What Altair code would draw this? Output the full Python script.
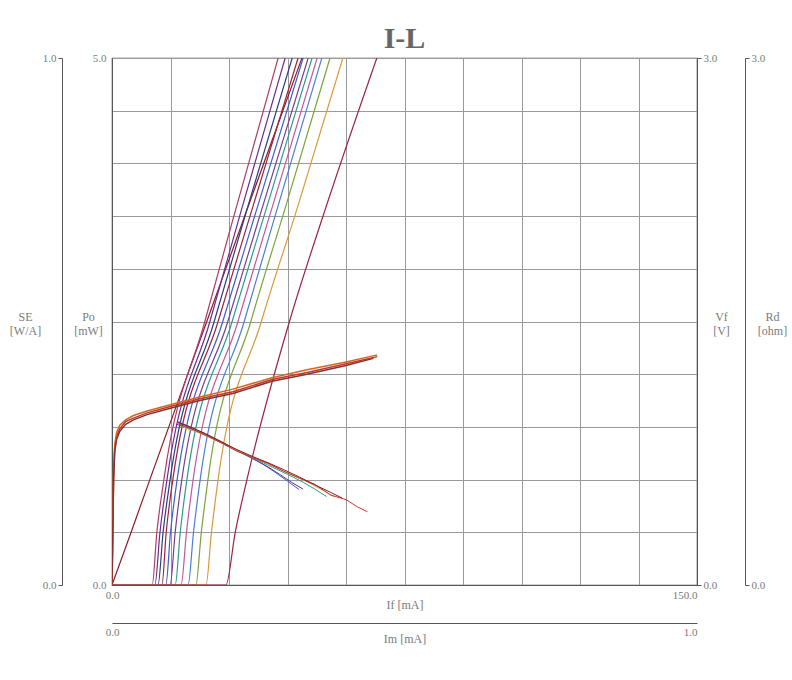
import altair as alt
import pandas as pd

# ---------------- data ----------------
# L-I curves: forward current If [mA] at given optical power Po [mW]
PO_LEVELS = [0.0, 0.0, 0.5, 1.0, 2.5, 3.6, 5.0]
LI_NAMES = ["c00", "c01", "c02", "c03", "c04", "c05", "c06",
            "c07", "c08", "c09", "c10", "c11", "c12"]
LI_IF = [
    [0.0, 0.0, 4.9, 9.7, 24.3, 35.0, 48.7],
    [0.0, 10.3, 11.5, 13.3, 23.8, 32.0, 42.6],
    [0.0, 11.0, 12.3, 14.1, 25.1, 33.5, 44.4],
    [0.0, 11.8, 13.1, 14.9, 26.2, 34.9, 46.2],
    [0.0, 12.8, 13.9, 15.6, 27.2, 36.2, 47.7],
    [0.0, 13.8, 15.0, 16.7, 28.4, 37.4, 49.0],
    [0.0, 14.9, 16.2, 17.9, 29.7, 38.7, 50.3],
    [0.0, 16.2, 17.5, 19.2, 30.8, 39.8, 51.3],
    [0.0, 17.7, 19.1, 20.8, 32.3, 41.2, 52.6],
    [0.0, 19.5, 20.9, 22.6, 33.9, 42.6, 53.8],
    [0.0, 21.5, 22.9, 24.6, 35.6, 44.6, 55.9],
    [0.0, 24.1, 25.5, 27.2, 38.3, 47.7, 59.2],
    [0.0, 29.2, 31.6, 34.6, 45.5, 55.0, 67.9],
]
LI_COLORS = ["#8b1a2b", "#b03a6c", "#6a2c91", "#2c3e7a", "#a0203c",
             "#3a5fcd", "#7a3d8f", "#2a9d8f", "#c2589a", "#4a7fd0",
             "#7aa33a", "#d99a3a", "#9b2340"]

# Forward voltage Vf [V] vs If [mA]
VF_NAMES = ["v1", "v2", "v3"]
VF_IF = [
    [0.0, 0.2, 0.4, 0.7, 1.2, 2.0, 3.5, 5.5, 9.0, 14.0, 22.5, 31.0, 41.0, 50.0, 60.0, 68.0],
    [0.0, 0.2, 0.4, 0.7, 1.2, 2.0, 3.5, 5.5, 9.0, 14.0, 22.5, 31.0, 41.0, 50.0, 60.0, 68.0],
    [0.0, 0.2, 0.4, 0.7, 1.2, 2.0, 3.5, 5.5, 9.0, 14.0, 22.5, 31.0, 41.0, 50.0, 60.0, 67.0],
]
VF_V = [
    [0.00, 0.30, 0.62, 0.78, 0.85, 0.89, 0.93, 0.95, 0.98, 1.01, 1.06, 1.10, 1.17, 1.21, 1.26, 1.30],
    [0.00, 0.32, 0.64, 0.80, 0.87, 0.91, 0.94, 0.965, 0.99, 1.02, 1.07, 1.115, 1.18, 1.225, 1.27, 1.31],
    [0.00, 0.28, 0.60, 0.76, 0.83, 0.875, 0.915, 0.94, 0.97, 1.00, 1.05, 1.09, 1.16, 1.20, 1.25, 1.29],
]
VF_COLORS = ["#c0392b", "#d4661f", "#8b2e2e"]

# Slope efficiency SE [W/A] vs If [mA]
SE_NAMES = ["s1", "s2", "s3", "s4", "s5", "s6"]
SE_IF = [
    [17.0, 20.0, 24.0, 28.0, 32.0, 36.0, 39.0, 42.0, 45.0, 48.0],
    [16.5, 20.0, 24.0, 28.0, 32.0, 36.0, 40.0, 43.0, 46.0, 49.0],
    [17.5, 21.0, 25.0, 29.0, 33.0, 37.0, 41.0, 45.0, 49.0, 52.0, 55.0],
    [18.0, 22.0, 26.0, 30.0, 34.0, 38.0, 42.0, 46.0, 50.0, 54.0, 57.0],
    [17.0, 20.0, 24.0, 28.0, 32.0, 36.0, 40.0, 44.0, 48.0, 52.0, 56.0, 60.0, 63.0, 65.5],
    [16.8, 20.0, 24.0, 28.0, 32.0, 36.0, 40.0, 44.0, 48.0, 52.0, 56.0, 59.0],
]
SE_V = [
    [0.310, 0.300, 0.287, 0.272, 0.256, 0.241, 0.228, 0.213, 0.197, 0.181],
    [0.305, 0.297, 0.285, 0.270, 0.255, 0.240, 0.224, 0.210, 0.195, 0.182],
    [0.302, 0.293, 0.281, 0.266, 0.252, 0.238, 0.224, 0.210, 0.195, 0.182, 0.168],
    [0.300, 0.290, 0.277, 0.262, 0.249, 0.236, 0.223, 0.209, 0.196, 0.180, 0.167],
    [0.307, 0.298, 0.284, 0.270, 0.254, 0.242, 0.231, 0.216, 0.203, 0.191, 0.171, 0.162, 0.148, 0.139],
    [0.309, 0.300, 0.287, 0.272, 0.257, 0.244, 0.232, 0.219, 0.205, 0.190, 0.176, 0.165],
]
SE_COLORS = ["#3a5fcd", "#6a2c91", "#2a9d8f", "#d9a03a", "#c0392b", "#8b1a2b"]

IF_GRID = [0, 15, 30, 45, 60, 75, 90, 105, 120, 135, 150]
PO_GRID = [0, 0.5, 1, 1.5, 2, 2.5, 3, 3.5, 4, 4.5, 5]

# ---------------- tables ----------------
li_rows = []
for n, xs in zip(LI_NAMES, LI_IF):
    for i, (x, p) in enumerate(zip(xs, PO_LEVELS)):
        li_rows.append({"curve": n, "order": i, "If": x, "Po": p})
li_df = pd.DataFrame(li_rows)

vf_rows = []
for n, xs, vs in zip(VF_NAMES, VF_IF, VF_V):
    for i, (x, v) in enumerate(zip(xs, vs)):
        vf_rows.append({"curve": n, "order": i, "If": x, "Vf": v})
vf_df = pd.DataFrame(vf_rows)

se_rows = []
for n, xs, vs in zip(SE_NAMES, SE_IF, SE_V):
    for i, (x, v) in enumerate(zip(xs, vs)):
        se_rows.append({"curve": n, "order": i, "If": x, "SE": v})
se_df = pd.DataFrame(se_rows)

dummy_df = pd.DataFrame({"Im": [0.0], "Rd": [0.0]})

FONT = "Liberation Serif"
TXT = "#7a7a7a"
AX = "#555555"

end_label_if = "datum.value == 0 || datum.value == 150 ? format(datum.value, '.1f') : ''"
end_label_po = "datum.value == 0 || datum.value == 5 ? format(datum.value, '.1f') : ''"
flush_align = {"condition": {"test": "datum.value > 0", "value": "right"}, "value": "center"}

common_axis = dict(labelFont=FONT, titleFont=FONT, labelColor=TXT, titleColor=TXT,
                   labelFontSize=11, titleFontSize=12, titleFontWeight="normal",
                   domainColor=AX, tickColor=AX)

x_main = alt.X("If:Q", scale=alt.Scale(domain=[0, 150], nice=False),
               axis=alt.Axis(orient="bottom", values=IF_GRID, grid=True, gridColor="#9a9a9a",
                             ticks=False, labelExpr=end_label_if, labelAlign=flush_align,
                             labelPadding=4, title="If [mA]", titleY=19, titleBaseline="middle",
                             **common_axis))
x_hidden = alt.X("If:Q", scale=alt.Scale(domain=[0, 150], nice=False), axis=None)

li = alt.Chart(li_df).mark_line(strokeWidth=1.2, clip=True, interpolate="monotone").encode(
    x=x_main,
    y=alt.Y("Po:Q", scale=alt.Scale(domain=[0, 5], nice=False),
            axis=alt.Axis(orient="left", values=PO_GRID, grid=True, gridColor="#9a9a9a",
                          ticks=False, labelExpr=end_label_po, labelPadding=6,
                          title=["Po", "[mW]"], titleAngle=0, titleX=-24, titleY=258,
                          titleAlign="center", titleBaseline="middle", **common_axis)),
    color=alt.Color("curve:N", scale=alt.Scale(domain=LI_NAMES, range=LI_COLORS), legend=None),
    order="order:Q",
)

vf = alt.Chart(vf_df).mark_line(strokeWidth=1.5, clip=True).encode(
    x=x_hidden,
    y=alt.Y("Vf:Q", scale=alt.Scale(domain=[0, 3], nice=False),
            axis=alt.Axis(orient="right", values=[0, 3], format=".1f", grid=False,
                          tickSize=4, labelPadding=2,
                          title=["Vf", "[V]"], titleAngle=0, titleX=24, titleY=258,
                          titleAlign="center", titleBaseline="middle", **common_axis)),
    color=alt.Color("curve:N", scale=alt.Scale(domain=VF_NAMES, range=VF_COLORS), legend=None),
    order="order:Q",
)

se = alt.Chart(se_df).mark_line(strokeWidth=1.0, clip=True).encode(
    x=x_hidden,
    y=alt.Y("SE:Q", scale=alt.Scale(domain=[0, 1], nice=False),
            axis=alt.Axis(orient="left", offset=50, values=[0, 1], format=".1f", grid=False,
                          tickSize=4, labelPadding=2,
                          title=["SE", "[W/A]"], titleAngle=0, titleX=-37, titleY=258,
                          titleAlign="center", titleBaseline="middle", **common_axis)),
    color=alt.Color("curve:N", scale=alt.Scale(domain=SE_NAMES, range=SE_COLORS), legend=None),
    order="order:Q",
)

dummy = alt.Chart(dummy_df).mark_point(opacity=0).encode(
    x=alt.X("Im:Q", scale=alt.Scale(domain=[0, 1], nice=False),
            axis=alt.Axis(orient="bottom", offset=38, values=[0, 1], format=".1f", grid=False,
                          ticks=False, labelAlign=flush_align, labelPadding=3,
                          title="Im [mA]", titleY=15, titleBaseline="middle", **common_axis)),
    y=alt.Y("Rd:Q", scale=alt.Scale(domain=[0, 3], nice=False),
            axis=alt.Axis(orient="right", offset=48, values=[0, 3], format=".1f", grid=False,
                          tickSize=4, labelPadding=2,
                          title=["Rd", "[ohm]"], titleAngle=0, titleX=27, titleY=258,
                          titleAlign="center", titleBaseline="middle", **common_axis)),
)

chart = alt.layer(li, vf, se, dummy).resolve_scale(
    x="independent", y="independent", color="independent"
).properties(
    width=585, height=527,
    autosize=alt.AutoSizeParams(type="none"),
    padding={"left": 112, "top": 58, "right": 95, "bottom": 95},
    title=alt.TitleParams("I-L", font=FONT, fontSize=30, fontWeight="bold",
                          color="#666666", offset=-2, anchor="middle"),
    background="white",
).configure_view(stroke=AX, strokeWidth=1.2)

chart.save("out.html", embed_options={"renderer": "svg", "actions": False})
